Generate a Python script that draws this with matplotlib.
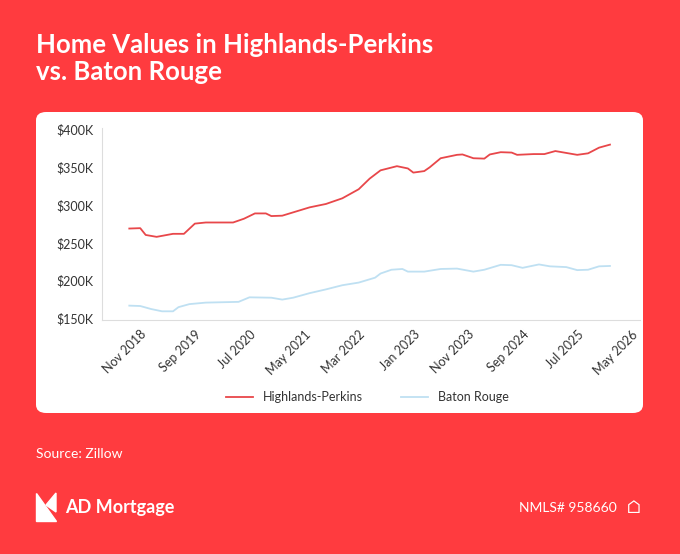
import matplotlib.pyplot as plt
from matplotlib.patches import FancyBboxPatch, Polygon

# months since Nov 2018
hp_month = [0, 2, 3, 5, 8, 10, 12, 14, 19, 21, 23, 25, 26, 28, 33, 36, 39, 42, 44, 46, 49,
            51, 52, 54, 55, 57, 60, 61, 63, 65, 66, 68, 70, 71, 74, 76, 78, 80, 82, 84, 86, 88]
hp_value = [269, 269.5, 260.5, 258, 262, 262, 275.5, 277, 277, 282, 289, 289, 285.5, 286, 297,
            301.5, 309, 321, 335, 346, 351.5, 348.5, 343, 345, 350, 362, 366.5, 367, 362, 361.5,
            367, 370, 369.5, 366.5, 367.5, 367.5, 371.5, 369, 366.5, 368.5, 376, 380]
br_month = [0, 2, 4, 6, 8, 9, 11, 14, 20, 22, 26, 28, 30, 33, 36, 39, 42, 45, 46, 48, 50, 51,
            54, 57, 60, 63, 65, 68, 70, 72, 75, 77, 80, 82, 84, 86, 88]
br_value = [167, 166.5, 162.5, 159.5, 159.5, 165, 169, 171, 172, 178, 177.5, 175, 177.5, 183.5,
            188.5, 194, 197.5, 204, 209.5, 214.5, 215.5, 212, 212, 215.5, 216, 212, 214.5, 221,
            220.5, 217, 221.5, 219, 218, 214, 214.5, 219, 219.5]
tick_labels = ["Nov 2018", "Sep 2019", "Jul 2020", "May 2021", "Mar 2022", "Jan 2023",
               "Nov 2023", "Sep 2024", "Jul 2025", "May 2026"]
y_ticks = [150, 200, 250, 300, 350, 400]

BG = "#FF3B3F"
plt.rcParams['font.family'] = ['Lato', 'DejaVu Sans']
fig = plt.figure(figsize=(6.8, 5.54), dpi=100, facecolor=BG)

box = FancyBboxPatch((36/680, 1-413/554), 607/680, 301/554, boxstyle="round,pad=0,rounding_size=0.015",
                     transform=fig.transFigure, facecolor="white", edgecolor="none", zorder=-5)
fig.patches.append(box)

fig.text(36/680, 1-45/554, "Home Values in Highlands-Perkins", color="white", fontsize=18.5,
         fontweight="bold", va="center")
fig.text(36/680, 1-72/554, "vs. Baton Rouge", color="white", fontsize=18.5, fontweight="bold", va="center")

ax = fig.add_axes([102/680, 1-320/554, 538/680, 192/554])
ax.set_zorder(2)
ax.set_facecolor("white")
ax.plot(hp_month, hp_value, color="#E8474A", lw=1.3, label="Highlands-Perkins")
ax.plot(br_month, br_value, color="#BFE0F2", lw=1.3, label="Baton Rouge")
ax.set_xlim(-5, 93.5)
ax.set_ylim(148, 402)
ax.set_yticks(y_ticks)
ax.set_yticklabels(["$%dK" % v for v in y_ticks], fontsize=9, color="#333333")
ax.set_xticks([m + 2 for m in range(0, 100, 10)])
ax.set_xticklabels(tick_labels, rotation=45, ha="right", rotation_mode="anchor", fontsize=9,
                   color="#333333")
ax.tick_params(length=0, pad=6)
for s in ["top", "right"]:
    ax.spines[s].set_visible(False)
ax.spines["left"].set_color("#DDDDDD")
ax.spines["bottom"].set_color("#DDDDDD")

leg = fig.legend(loc="center", bbox_to_anchor=(0.54, 1-397/554), ncol=2, frameon=False, fontsize=9,
                 handlelength=2.2, columnspacing=3)
for t in leg.get_texts():
    t.set_color("#333333")

fig.text(36/680, 1-454/554, "Source: Zillow", color="white", fontsize=10, va="center")
fig.patches.append(Polygon([(36/680, 1-493/554), (36/680, 1-521/554), (56/680, 1-521/554)],
                           closed=True, transform=fig.transFigure, color="white"))
fig.patches.append(Polygon([(56/680, 1-493/554), (56/680, 1-512/554), (46/680, 1-505/554)],
                           closed=True, transform=fig.transFigure, color="white"))
fig.text(65/680, 1-508/554, "AD Mortgage", color="white", fontsize=13, fontweight="bold", va="center")
fig.text(617/680, 1-508/554, "NMLS# 958660", color="white", fontsize=10, va="center", ha="right")
fig.text(634/680, 1-508/554, "⌂", color="white", fontsize=13, va="center", ha="center")

fig.savefig("out.png", dpi=100, facecolor=BG)
